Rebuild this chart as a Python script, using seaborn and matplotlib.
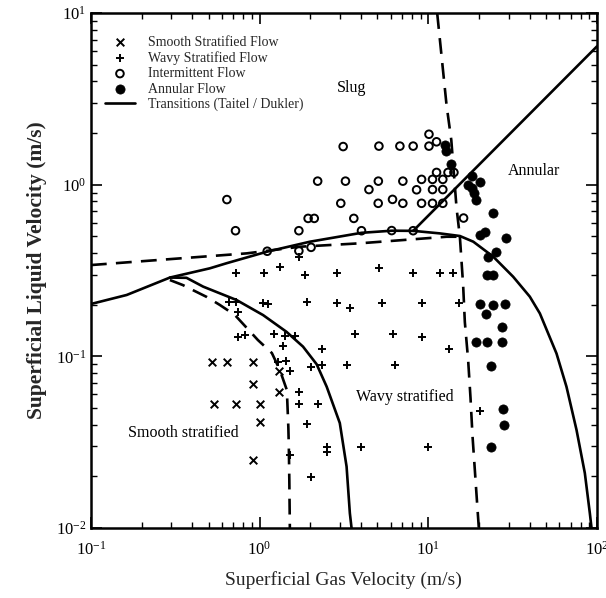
import matplotlib
matplotlib.use("Agg")
import matplotlib.pyplot as plt
import seaborn as sns
import numpy as np

# ---------------- data ----------------
smooth_x = [0.52, 0.64, 0.91, 0.91, 0.54, 0.72, 1.0, 1.0, 0.92, 1.30, 1.30]
smooth_y = [0.093, 0.093, 0.093, 0.0695, 0.0525, 0.0525, 0.0525, 0.0417, 0.0249, 0.0623, 0.0817]

wavy_x = [0.72, 1.06, 1.32, 1.71, 1.87, 2.86, 5.12, 8.14, 11.7, 14.05,
          0.66, 0.72, 0.75, 1.05, 1.115, 1.90, 2.87, 3.43, 5.34, 9.13, 15.25,
          0.75, 0.815, 1.22, 1.42, 1.63, 1.37, 3.70, 6.17, 9.13,
          2.33, 13.2,
          1.29, 1.43, 1.51, 2.03, 2.33, 3.31, 6.34,
          1.71, 1.71, 2.22, 1.90, 20.2,
          2.50, 2.50, 1.51, 3.99, 10.0, 2.01]
wavy_y = [0.305, 0.305, 0.33, 0.38, 0.298, 0.305, 0.329, 0.305, 0.305, 0.305,
          0.208, 0.208, 0.182, 0.204, 0.201, 0.208, 0.204, 0.191, 0.205, 0.204, 0.204,
          0.130, 0.133, 0.135, 0.131, 0.131, 0.115, 0.135, 0.135, 0.130,
          0.110, 0.110,
          0.093, 0.094, 0.082, 0.087, 0.089, 0.089, 0.089,
          0.062, 0.0525, 0.0525, 0.0406, 0.048,
          0.0298, 0.0277, 0.0268, 0.0298, 0.0298, 0.0198]

inter_x = [0.64, 0.72, 1.11, 1.71, 1.71, 1.94, 2.11, 2.02, 2.21, 3.13,
           3.23, 3.03, 3.62, 4.02, 4.45, 5.06, 5.10, 5.05, 6.07, 6.14,
           6.79, 7.07, 7.07, 8.14, 8.14, 8.53, 9.13, 9.13, 10.1, 10.1,
           11.2, 10.6, 12.2, 11.2, 13.1, 14.2, 10.6, 12.2, 10.6, 12.2, 16.2]
inter_y = [0.82, 0.54, 0.41, 0.54, 0.412, 0.637, 0.637, 0.432, 1.05, 1.67,
           1.05, 0.78, 0.637, 0.54, 0.938, 1.05, 1.68, 0.78, 0.541, 0.822,
           1.68, 1.05, 0.78, 1.68, 0.54, 0.935, 1.075, 0.78, 1.97, 1.68,
           1.78, 1.075, 1.075, 1.18, 1.18, 1.18, 0.938, 0.938, 0.78, 0.78, 0.64]

annular_x = [12.6, 12.8, 13.7, 18.1, 20.2, 17.2, 18.1, 18.7, 19.2, 24.2,
             21.8, 20.4, 28.8, 25.2, 22.7, 22.2, 24.1, 20.2, 22.0, 24.3,
             28.5, 27.2, 19.3, 22.3, 27.2, 23.6, 27.8, 28.3, 23.6]
annular_y = [1.70, 1.57, 1.33, 1.12, 1.04, 1.0, 0.953, 0.895, 0.81, 0.687,
             0.53, 0.509, 0.491, 0.408, 0.381, 0.298, 0.298, 0.203, 0.1765, 0.199,
             0.203, 0.149, 0.121, 0.121, 0.121, 0.0885, 0.0497, 0.0396, 0.0296]

# Transition curves (Taitel / Dukler)
curveA_x = [0.1, 0.163, 0.294, 0.507, 0.637, 1.10, 1.99, 4.02, 6.07, 8.14, 11.7, 15.4,
            18.5, 24.3, 31.9, 40.0, 45.9, 57.6, 66.0, 75.7, 84.8, 90.8, 92.9]
curveA_y = [0.202, 0.228, 0.288, 0.326, 0.349, 0.407, 0.466, 0.525, 0.540, 0.539, 0.521, 0.503,
            0.466, 0.381, 0.291, 0.223, 0.178, 0.104, 0.0666, 0.0373, 0.0209, 0.0122, 0.01]
curveC_x = [0.294, 0.369, 0.463, 0.731, 1.05, 1.445, 1.81, 2.18, 2.50, 2.99, 3.28, 3.43, 3.51]
curveC_y = [0.288, 0.287, 0.255, 0.213, 0.174, 0.139, 0.114, 0.090, 0.0666, 0.0409, 0.0228, 0.0122, 0.01]
curveB_x = [8.14, 100.0]
curveB_y = [0.539, 6.4]

dashH_x = [0.1, 0.838, 1.734, 3.93, 12.84, 15.4]
dashH_y = [0.3406, 0.3984, 0.4355, 0.456, 0.498, 0.498]
dashUp_x = [11.3, 12.84, 13.7, 14.72, 15.4]
dashUp_y = [10.0, 2.91, 1.82, 0.731, 0.498]
dashDown_x = [15.4, 16.1, 16.48, 17.24, 17.81, 18.3, 19.68, 19.95]
dashDown_y = [0.498, 0.2604, 0.1587, 0.0953, 0.0572, 0.0344, 0.0121, 0.01]
dashSW_x = [0.294, 0.351, 0.402, 0.487, 0.582, 0.714, 0.841, 0.977, 1.183, 1.319,
            1.451, 1.481, 1.491, 1.501, 1.512]
dashSW_y = [0.2786, 0.2604, 0.2435, 0.2218, 0.1993, 0.1742, 0.1463, 0.1246, 0.1046, 0.0833,
            0.0637, 0.0388, 0.0297, 0.01906, 0.01]

region_labels = ["Slug", "Annular", "Wavy stratified", "Smooth stratified"]
region_x = [3.52, 42.3, 7.26, 0.351]
region_y = [3.66, 1.20, 0.058, 0.0358]

legend_labels = ["Smooth Stratified Flow", "Wavy Stratified Flow", "Intermittent Flow",
                 "Annular Flow", "Transitions (Taitel / Dukler)"]

# ---------------- style ----------------
sns.set_theme(style="ticks")
plt.rcParams["font.family"] = ["Liberation Serif", "DejaVu Serif"]
plt.rcParams["mathtext.fontset"] = "custom"
plt.rcParams["mathtext.rm"] = "Liberation Serif"
plt.rcParams["mathtext.it"] = "Liberation Serif:italic"
plt.rcParams["mathtext.bf"] = "Liberation Serif:bold"

fig = plt.figure(figsize=(6.06, 5.98), dpi=100)
ax = fig.add_axes([0.150, 0.117, 0.835, 0.861])
ax.set_xscale("log")
ax.set_yscale("log")

lw = 1.9
dash = (0, (6, 3.5))

sns.scatterplot(x=smooth_x, y=smooth_y, marker="x", color="black", s=30, linewidth=1.4,
                label=legend_labels[0], ax=ax)
sns.scatterplot(x=wavy_x, y=wavy_y, marker="+", color="black", s=38, linewidth=1.4,
                label=legend_labels[1], ax=ax)
sns.scatterplot(x=inter_x, y=inter_y, marker="o", facecolor="none", edgecolor="black",
                s=30, linewidth=1.4, label=legend_labels[2], ax=ax)
sns.scatterplot(x=annular_x, y=annular_y, marker="o", color="black", edgecolor="black",
                s=44, linewidth=0.5, label=legend_labels[3], ax=ax)

sns.lineplot(x=curveA_x, y=curveA_y, sort=False, estimator=None, color="black", lw=lw,
             label=legend_labels[4], ax=ax)
sns.lineplot(x=curveC_x, y=curveC_y, sort=False, estimator=None, color="black", lw=lw,
             legend=False, ax=ax)
sns.lineplot(x=curveB_x, y=curveB_y, sort=False, estimator=None, color="black", lw=lw,
             legend=False, ax=ax)
for xs, ys in [(dashH_x, dashH_y), (dashUp_x, dashUp_y), (dashDown_x, dashDown_y),
               (dashSW_x, dashSW_y)]:
    sns.lineplot(x=xs, y=ys, sort=False, estimator=None, color="black", lw=lw,
                 linestyle=dash, legend=False, ax=ax)

ax.set_xlim(0.1, 100)
ax.set_ylim(0.01, 10)

for t, x, y in zip(region_labels, region_x, region_y):
    ax.text(x, y, t, ha="center", va="center", fontsize=11.5, color="black")

ax.set_xlabel("Superficial Gas Velocity (m/s)", fontsize=14, labelpad=9)
ax.set_ylabel("Superficial Liquid Velocity (m/s)", fontsize=15.5, fontweight="bold", labelpad=6)

for s in ax.spines.values():
    s.set_linewidth(1.8)
    s.set_color("black")
ax.tick_params(which="both", direction="in", top=True, right=True, colors="black",
               labelsize=12)
ax.tick_params(which="major", length=8, width=1.2)
ax.tick_params(which="minor", length=4, width=1.0)
ax.tick_params(axis="x", which="major", pad=9)

leg = ax.legend(loc="upper left", bbox_to_anchor=(0.008, 0.975), frameon=False,
                fontsize=10, labelspacing=0.17, handlelength=2.2, handletextpad=0.9,
                borderpad=0.2)

fig.savefig("out.png", dpi=100)
